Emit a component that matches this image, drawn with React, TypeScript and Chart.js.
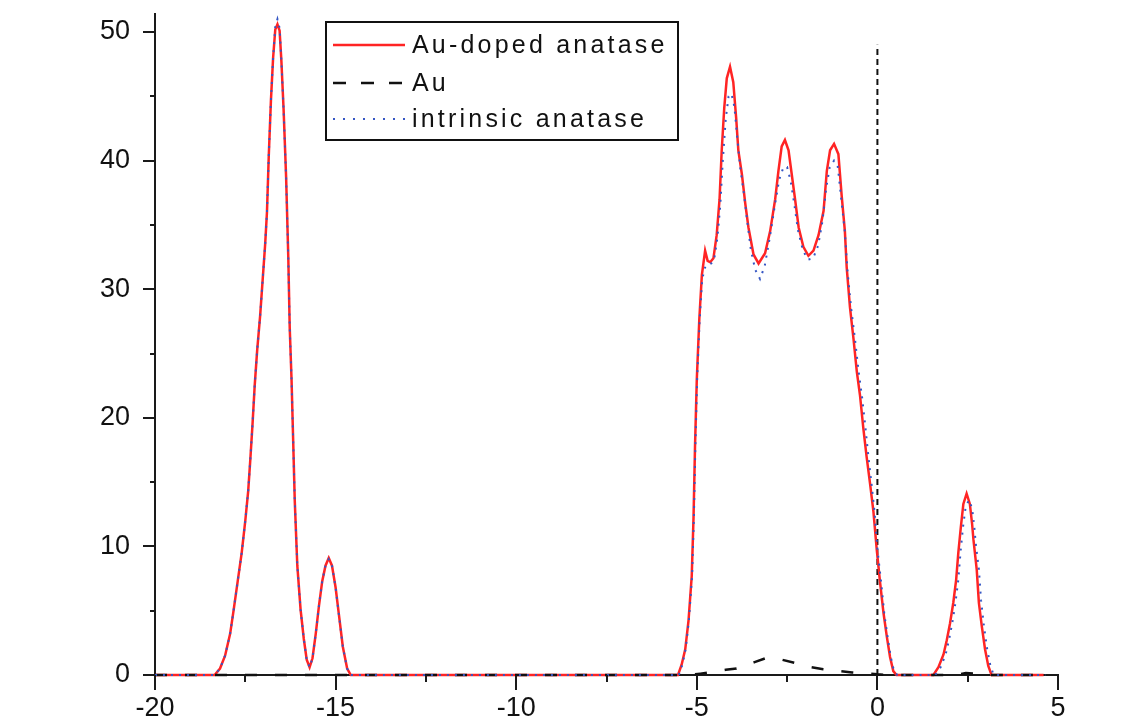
import React, { useEffect, useRef } from 'react';
import { Chart, registerables } from 'chart.js';

Chart.register(...registerables);

// ---------- data ----------
const seriesLabels = ['Au-doped anatase', 'Au', 'intrinsic anatase'];
const xTickValues = [-20, -15, -10, -5, 0, 5];
const yTickValues = [0, 10, 20, 30, 40, 50];
const xRange = [-20, 5];
const yRange = [0, 51.4];

// vertical marker at the Fermi level (x = 0)
const fermiLevel: [number, number][] = [[0, 0], [0, 49]];

const auDoped: [number, number][] = [
  [-20, 0], [-18.35, 0], [-18.2, 0.5], [-18.06, 1.5], [-17.92, 3.2], [-17.82, 5.1],
  [-17.71, 7.3], [-17.6, 9.5], [-17.5, 12], [-17.42, 14.3], [-17.36, 16.8], [-17.3, 19.5],
  [-17.24, 22.5], [-17.17, 25.3], [-17.09, 27.9], [-17.02, 30.7], [-16.95, 33.5], [-16.9, 36],
  [-16.85, 40.4], [-16.79, 44.7], [-16.73, 48], [-16.67, 50.2], [-16.61, 50.6], [-16.55, 50.1],
  [-16.5, 47.7], [-16.44, 44], [-16.37, 38.7], [-16.31, 32.5], [-16.27, 27], [-16.22, 23],
  [-16.18, 18.8], [-16.13, 13.5], [-16.06, 8.5], [-15.97, 5.1], [-15.88, 2.8], [-15.8, 1.2],
  [-15.72, 0.6], [-15.64, 1.3], [-15.55, 3.2], [-15.46, 5.4], [-15.37, 7.3], [-15.28, 8.5],
  [-15.19, 9.1], [-15.1, 8.5], [-15.0, 6.8], [-14.9, 4.5], [-14.8, 2.2], [-14.68, 0.5],
  [-14.58, 0], [-5.52, 0], [-5.42, 0.8], [-5.32, 2.0], [-5.23, 4.2], [-5.14, 7.7],
  [-5.09, 12.3], [-5.05, 17.7], [-5.0, 23], [-4.93, 27.7], [-4.86, 31.1], [-4.77, 33.0],
  [-4.7, 32.2], [-4.63, 32.1], [-4.54, 32.4], [-4.45, 34.2], [-4.37, 37], [-4.31, 40.8],
  [-4.24, 44.1], [-4.17, 46.4], [-4.08, 47.3], [-3.99, 46.1], [-3.91, 43.3], [-3.85, 40.8],
  [-3.75, 38.9], [-3.66, 36.7], [-3.57, 34.8], [-3.43, 32.7], [-3.29, 32.0], [-3.11, 32.8],
  [-2.97, 34.5], [-2.83, 37], [-2.74, 39.2], [-2.65, 41.1], [-2.56, 41.6], [-2.46, 40.8],
  [-2.37, 38.9], [-2.28, 37], [-2.18, 34.8], [-2.05, 33.3], [-1.91, 32.6], [-1.77, 33.0],
  [-1.63, 34.2], [-1.49, 36.1], [-1.4, 39.2], [-1.31, 40.8], [-1.2, 41.3], [-1.08, 40.5],
  [-0.99, 37.3], [-0.9, 34.5], [-0.85, 31.7], [-0.76, 28.6], [-0.66, 26.1], [-0.57, 23.6],
  [-0.48, 21.7], [-0.39, 19.2], [-0.3, 17], [-0.2, 14.8], [-0.11, 12.7], [-0.02, 9.8],
  [0.07, 7.3], [0.17, 4.8], [0.26, 3.0], [0.35, 1.4], [0.44, 0.3], [0.53, 0],
  [1.55, 0], [1.69, 0.6], [1.83, 1.6], [1.92, 2.7], [2.01, 4.0], [2.1, 5.6],
  [2.18, 7.4], [2.24, 9.5], [2.31, 11.5], [2.38, 13.3], [2.47, 14.1], [2.56, 13.3],
  [2.62, 11.8], [2.66, 10.5], [2.75, 8.2], [2.81, 5.6], [2.89, 3.8], [2.98, 2.0],
  [3.07, 0.7], [3.16, 0], [4.6, 0],
];

const auOnly: [number, number][] = [
  [-20, 0], [-5.2, 0], [-4.9, 0.1], [-4.5, 0.25], [-4.2, 0.4], [-3.9, 0.5],
  [-3.4, 1.0], [-3.1, 1.3], [-2.8, 1.3], [-2.3, 0.95], [-2.0, 0.7], [-1.5, 0.45],
  [-1.2, 0.35], [-0.7, 0.2], [-0.35, 0.15], [0, 0.05], [0.3, 0], [2.2, 0],
  [2.45, 0.15], [2.7, 0.1], [3.0, 0], [4.6, 0],
];

const intrinsic: [number, number][] = [
  [-20, 0], [-18.35, 0], [-18.2, 0.5], [-18.06, 1.5], [-17.92, 3.2], [-17.82, 5.1],
  [-17.71, 7.3], [-17.6, 9.5], [-17.5, 12], [-17.42, 14.3], [-17.36, 16.8], [-17.3, 19.5],
  [-17.24, 22.5], [-17.17, 25.3], [-17.09, 27.9], [-17.02, 30.7], [-16.95, 33.5], [-16.9, 36],
  [-16.85, 40.4], [-16.79, 44.7], [-16.73, 48], [-16.67, 50.4], [-16.61, 51.0], [-16.55, 50.3],
  [-16.5, 47.7], [-16.44, 44], [-16.37, 38.7], [-16.31, 32.5], [-16.27, 27], [-16.22, 23],
  [-16.18, 18.8], [-16.13, 13.5], [-16.06, 8.5], [-15.97, 5.1], [-15.88, 2.8], [-15.8, 1.2],
  [-15.72, 0.6], [-15.64, 1.3], [-15.55, 3.2], [-15.46, 5.4], [-15.37, 7.3], [-15.28, 8.5],
  [-15.19, 9.0], [-15.1, 8.5], [-15.0, 6.8], [-14.9, 4.5], [-14.8, 2.2], [-14.68, 0.5],
  [-14.58, 0], [-5.5, 0], [-5.4, 0.8], [-5.31, 2.0], [-5.22, 4.2], [-5.13, 7.7],
  [-5.08, 12.3], [-5.04, 17.7], [-4.99, 23], [-4.92, 27.7], [-4.85, 30.8], [-4.76, 31.8],
  [-4.68, 31.9], [-4.6, 32.0], [-4.52, 32.3], [-4.43, 34.0], [-4.35, 36.5], [-4.28, 40],
  [-4.2, 43.2], [-4.12, 45.0], [-4.04, 45.2], [-3.96, 44.2], [-3.88, 41.8], [-3.8, 39.5],
  [-3.7, 37.5], [-3.6, 35.2], [-3.5, 33.0], [-3.38, 31.5], [-3.25, 30.8], [-3.12, 31.8],
  [-2.98, 34.0], [-2.84, 36.5], [-2.72, 38.5], [-2.6, 39.5], [-2.5, 39.5], [-2.4, 38.4],
  [-2.3, 36.6], [-2.2, 34.6], [-2.06, 33.0], [-1.92, 32.3], [-1.78, 32.4], [-1.64, 33.4],
  [-1.52, 35.3], [-1.42, 37.8], [-1.32, 39.5], [-1.2, 40.0], [-1.1, 39.6], [-1.0, 37.0],
  [-0.9, 34.4], [-0.83, 31.5], [-0.73, 28.6], [-0.62, 26.1], [-0.52, 23.6], [-0.42, 21.5],
  [-0.33, 19.2], [-0.25, 17], [-0.16, 14.8], [-0.08, 12.7], [0.0, 9.8], [0.1, 7.3],
  [0.19, 4.8], [0.28, 3.0], [0.37, 1.4], [0.46, 0.3], [0.55, 0],
  [1.6, 0], [1.75, 0.6], [1.89, 1.6], [1.98, 2.7], [2.07, 4.0], [2.16, 5.6],
  [2.24, 7.4], [2.3, 9.5], [2.37, 11.5], [2.44, 13.0], [2.53, 13.6], [2.62, 13.0],
  [2.68, 11.6], [2.72, 10.3], [2.81, 8.2], [2.87, 5.8], [2.95, 3.8], [3.04, 2.0],
  [3.13, 0.7], [3.22, 0], [4.65, 0],
];

// ---------- helpers ----------
const toXY = (pts: [number, number][]) => pts.map(([x, y]) => ({ x, y }));
const isMajor = (list: number[], v: number) => list.some((t) => Math.abs(t - v) < 1e-9);

const FONT = '"Liberation Sans", Arial, sans-serif';
const AXIS_COLOR = '#1a1a1a';

// dataset indices in legend order: doped, Au, intrinsic
const legendOrder = [2, 1, 0];

const tickMarks = {
  id: 'tickMarks',
  afterDraw(chart: any) {
    const { ctx } = chart;
    const xs = chart.scales.x;
    const ys = chart.scales.y;
    ctx.save();
    ctx.strokeStyle = AXIS_COLOR;
    ctx.lineWidth = 2;
    xs.ticks.forEach((t: any) => {
      const px = Math.round(xs.getPixelForValue(t.value));
      const len = isMajor(xTickValues, t.value) ? 15 : 7;
      ctx.beginPath();
      ctx.moveTo(px, xs.top);
      ctx.lineTo(px, xs.top + len);
      ctx.stroke();
    });
    ys.ticks.forEach((t: any) => {
      if (Math.abs(t.value % 5) > 1e-9) return;
      const py = Math.round(ys.getPixelForValue(t.value));
      const len = isMajor(yTickValues, t.value) ? 12 : 5;
      ctx.beginPath();
      ctx.moveTo(ys.right, py);
      ctx.lineTo(ys.right - len, py);
      ctx.stroke();
    });
    ctx.restore();
  },
};

const boxLegend = {
  id: 'boxLegend',
  afterDraw(chart: any) {
    const { ctx } = chart;
    const left = 326;
    const top = 22;
    const w = 352;
    const h = 118;
    const rows = [45, 83, 119];
    ctx.save();
    ctx.fillStyle = '#ffffff';
    ctx.fillRect(left, top, w, h);
    ctx.strokeStyle = '#111111';
    ctx.lineWidth = 2;
    ctx.strokeRect(left, top, w, h);
    legendOrder.forEach((di, i) => {
      const ds = chart.data.datasets[di];
      ctx.strokeStyle = ds.borderColor;
      ctx.lineWidth = ds.borderWidth;
      ctx.setLineDash(ds.legendDash || []);
      ctx.beginPath();
      ctx.moveTo(333, rows[i]);
      ctx.lineTo(405, rows[i]);
      ctx.stroke();
      ctx.setLineDash([]);
      ctx.fillStyle = '#111111';
      ctx.font = `25px ${FONT}`;
      (ctx as any).letterSpacing = '3.2px';
      ctx.textBaseline = 'middle';
      ctx.textAlign = 'left';
      ctx.fillText(ds.label, 412, rows[i] + 1);
    });
    ctx.restore();
  },
};

export default function App() {
  const canvasRef = useRef<HTMLCanvasElement | null>(null);

  useEffect(() => {
    const canvas = canvasRef.current;
    if (!canvas) return;
    const chart = new Chart(canvas, {
      type: 'scatter',
      data: {
        datasets: [
          {
            label: seriesLabels[2],
            data: toXY(intrinsic),
            showLine: true,
            borderColor: '#3556c4',
            borderWidth: 2,
            borderDash: [2, 6],
            legendDash: [2, 8],
            pointRadius: 0,
            tension: 0,
            order: 0,
            clip: 6,
          } as any,
          {
            label: seriesLabels[1],
            data: toXY(auOnly),
            showLine: true,
            borderColor: '#111111',
            borderWidth: 2.5,
            borderDash: [12, 18],
            legendDash: [13, 15],
            pointRadius: 0,
            tension: 0,
            order: 1,
            clip: 6,
          } as any,
          {
            label: seriesLabels[0],
            data: toXY(auDoped),
            showLine: true,
            borderColor: '#ff2424',
            borderWidth: 2.5,
            pointRadius: 0,
            tension: 0,
            order: 2,
            clip: 6,
          } as any,
          {
            label: 'Fermi level',
            data: toXY(fermiLevel),
            showLine: true,
            borderColor: '#111111',
            borderWidth: 2,
            borderDash: [6, 4],
            pointRadius: 0,
            order: 3,
            clip: 6,
          } as any,
        ],
      },
      options: {
        animation: false,
        responsive: false,
        maintainAspectRatio: false,
        layout: { padding: { top: 14, right: 80, left: 0, bottom: 0 } },
        plugins: {
          legend: { display: false },
          tooltip: { enabled: false },
          title: { display: false },
        },
        scales: {
          x: {
            type: 'linear',
            min: xRange[0],
            max: xRange[1],
            afterFit: (s: any) => {
              s.height = 48;
              s.paddingLeft = 0;
              s.paddingRight = 0;
            },
            grid: { display: false, drawTicks: false },
            border: { display: true, color: AXIS_COLOR, width: 2 },
            ticks: {
              stepSize: 2.5,
              includeBounds: false,
              autoSkip: false,
              maxRotation: 0,
              padding: 20,
              color: '#111111',
              font: { family: FONT, size: 27, lineHeight: 1 },
              callback: (v: any) => (isMajor(xTickValues, Number(v)) ? String(v) : ''),
            },
          },
          y: {
            type: 'linear',
            min: yRange[0],
            max: yRange[1],
            afterFit: (s: any) => {
              s.width = 155;
              s.paddingTop = 0;
              s.paddingBottom = 0;
            },
            grid: { display: false, drawTicks: false },
            border: { display: true, color: AXIS_COLOR, width: 2 },
            ticks: {
              stepSize: 5,
              includeBounds: false,
              autoSkip: false,
              padding: 25,
              color: '#111111',
              font: { family: FONT, size: 27, lineHeight: 1 },
              callback: (v: any) => (isMajor(yTickValues, Number(v)) ? String(v) : ''),
            },
          },
        },
      } as any,
      plugins: [tickMarks, boxLegend],
    });
    return () => chart.destroy();
  }, []);

  return (
    <div
      style={{
        position: 'absolute',
        left: 0,
        top: 0,
        width: 1138,
        height: 723,
        background: '#ffffff',
      }}
    >
      <canvas ref={canvasRef} width={1138} height={723} style={{ display: 'block' }} />
    </div>
  );
}
